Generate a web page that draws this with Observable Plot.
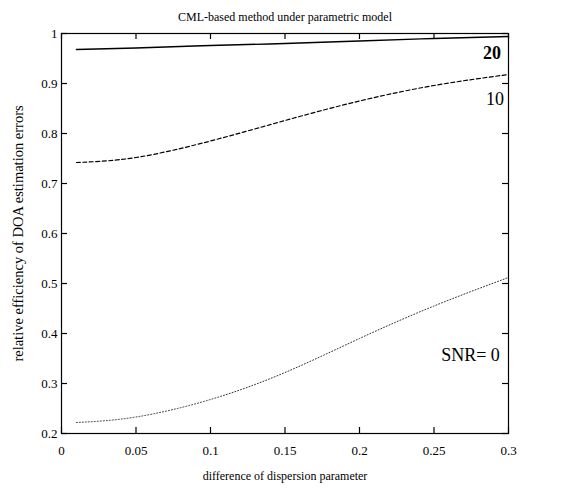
<!DOCTYPE html>
<html>
<head>
<meta charset="utf-8">
<script src="https://cdn.jsdelivr.net/npm/d3@7"></script>
<script src="https://cdn.jsdelivr.net/npm/@observablehq/plot@0.6"></script>
<style>
  html, body { margin: 0; padding: 0; background: #fff; }
  #chart { width: 570px; height: 493px; }
  svg text { font-family: "Liberation Serif", "Times New Roman", serif !important; }
</style>
</head>
<body>
<div id="chart"></div>
<script>
const xValues = [0.01, 0.05, 0.1, 0.15, 0.2, 0.25, 0.3];
const snr20 = [0.968, 0.971, 0.976, 0.980, 0.985, 0.990, 0.994];
const snr10 = [0.742, 0.752, 0.785, 0.826, 0.865, 0.896, 0.918];
const snr0  = [0.222, 0.233, 0.268, 0.322, 0.390, 0.455, 0.512];
const xTicks = [0, 0.05, 0.1, 0.15, 0.2, 0.25, 0.3];
const xTickLabels = ["0", "0.05", "0.1", "0.15", "0.2", "0.25", "0.3"];
const yTicks = [0.2, 0.3, 0.4, 0.5, 0.6, 0.7, 0.8, 0.9, 1];
const yTickLabels = ["0.2", "0.3", "0.4", "0.5", "0.6", "0.7", "0.8", "0.9", "1"];
const curveLabels = ["20", "10", "SNR= 0"];
const labelX = [0.289, 0.291, 0.2745];
const labelY = [0.961, 0.869, 0.356];
const labelWeight = ["bold", "normal", "normal"];

const rows = (vals) => xValues.map((x, i) => ({x, y: vals[i]}));
const labels = curveLabels.map((t, i) => ({t, x: labelX[i], y: labelY[i], w: labelWeight[i]}));
const serif = "Liberation Serif, serif";

const W = 570, H = 493, ML = 61, MR = 62, MT = 33, MB = 60, TICK = 6;
const innerW = W - ML - MR, innerH = H - MT - MB;

const chart = Plot.plot({
  width: W,
  height: H,
  marginLeft: ML,
  marginRight: MR,
  marginTop: MT,
  marginBottom: MB,
  style: {fontFamily: serif, background: "#fff", color: "#000"},
  x: {domain: [0, 0.3]},
  y: {domain: [0.2, 1]},
  marks: [
    Plot.frame({stroke: "#000", strokeWidth: 1.2}),
    // inward ticks on all four sides
    Plot.tickX(xTicks, {x: d => d, insetTop: innerH - TICK, stroke: "#000", strokeWidth: 1.2}),
    Plot.tickX(xTicks, {x: d => d, insetBottom: innerH - TICK, stroke: "#000", strokeWidth: 1.2}),
    Plot.tickY(yTicks, {y: d => d, insetRight: innerW - TICK, stroke: "#000", strokeWidth: 1.2}),
    Plot.tickY(yTicks, {y: d => d, insetLeft: innerW - TICK, stroke: "#000", strokeWidth: 1.2}),
    Plot.axisX({anchor: "bottom", ticks: xTicks, tickSize: 0, tickPadding: 12,
      tickFormat: (d) => xTickLabels[xTicks.indexOf(d)], fontSize: 13, fontFamily: serif, label: null}),
    Plot.axisY({anchor: "left", ticks: yTicks, tickSize: 0, tickPadding: 4,
      tickFormat: (d) => yTickLabels[yTicks.indexOf(d)], fontSize: 13, fontFamily: serif, label: null}),
    Plot.line(rows(snr20), {x: "x", y: "y", curve: "natural", stroke: "#000", strokeWidth: 1.4}),
    Plot.line(rows(snr10), {x: "x", y: "y", curve: "natural", stroke: "#000", strokeWidth: 1.2, strokeDasharray: "4,2.5"}),
    Plot.line(rows(snr0), {x: "x", y: "y", curve: "natural", stroke: "#333", strokeWidth: 1, strokeDasharray: "1,2"}),
    Plot.text(labels.filter(d => d.w === "bold"), {x: "x", y: "y", text: "t", fontSize: 18, fontWeight: "bold", fontFamily: serif, fill: "#000"}),
    Plot.text(labels.filter(d => d.w !== "bold"), {x: "x", y: "y", text: "t", fontSize: 18, fontFamily: serif, fill: "#000"}),
    Plot.text(["CML-based method under parametric model"], {frameAnchor: "top", dy: -21, fontSize: 12, fontFamily: serif, fill: "#000"}),
    Plot.text(["difference of dispersion parameter"], {frameAnchor: "bottom", dy: 46, fontSize: 12, fontFamily: serif, fill: "#000"}),
    Plot.text(["relative efficiency of DOA estimation errors"], {frameAnchor: "left", textAnchor: "middle", dx: -43, rotate: -90, fontSize: 14.5, fontFamily: serif, fill: "#000"})
  ]
});
document.getElementById("chart").appendChild(chart);
</script>
</body>
</html>
